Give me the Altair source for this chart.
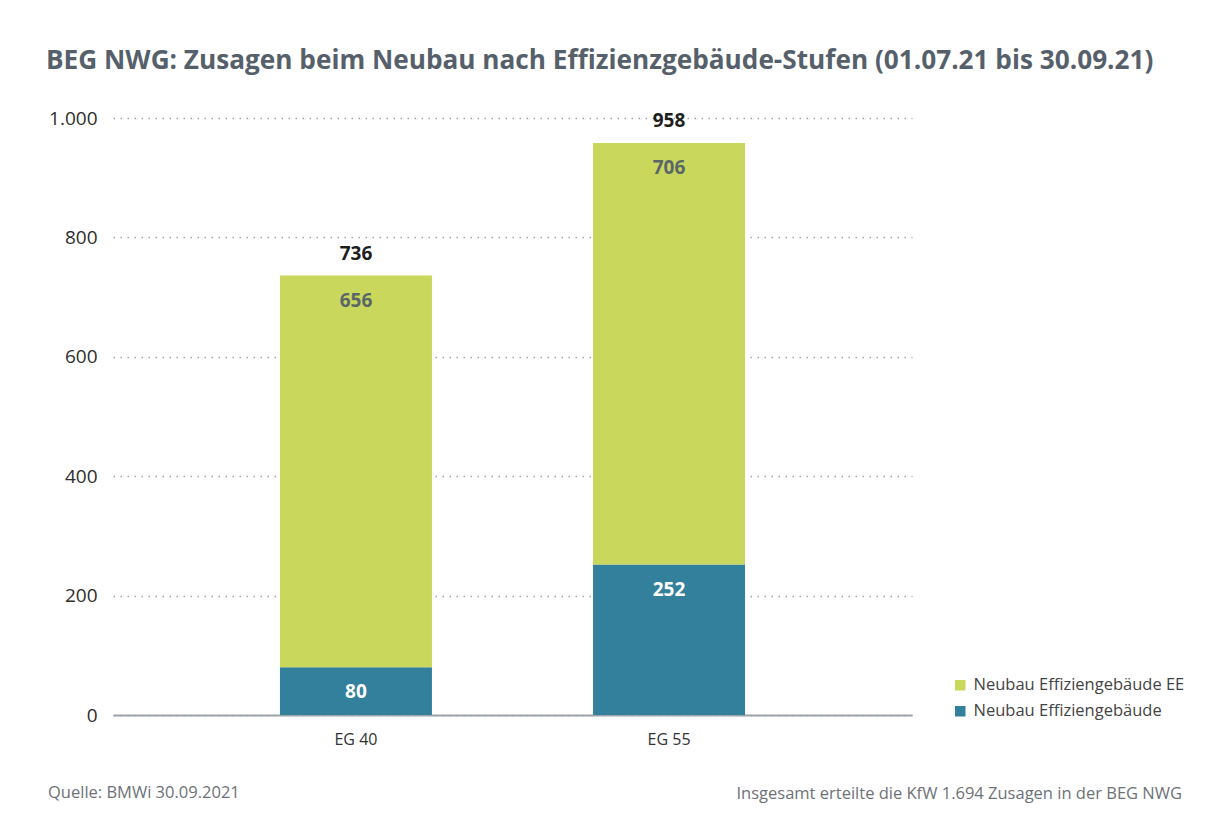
import altair as alt
import pandas as pd

# ---- data ----
categories = ["EG 40", "EG 55"]
series_eg = "Neubau Effiziengebäude"
series_ee = "Neubau Effiziengebäude EE"
values_eg = [80, 252]
values_ee = [656, 706]
y_ticks = [0, 200, 400, 600, 800, 1000]

title_text = "BEG NWG: Zusagen beim Neubau nach Effizienzgebäude-Stufen (01.07.21 bis 30.09.21)"
source_note = "Quelle: BMWi 30.09.2021"
total_note = "Insgesamt erteilte die KfW 1.694 Zusagen in der BEG NWG"

GREEN = "#c9d85c"
TEAL = "#33809c"
FONT = "Open Sans"

rows = []
for i, c in enumerate(categories):
    rows.append(dict(cat=c, series=series_eg, value=values_eg[i], y0=0,
                     y1=values_eg[i], lab_color="#ffffff"))
    rows.append(dict(cat=c, series=series_ee, value=values_ee[i], y0=values_eg[i],
                     y1=values_eg[i] + values_ee[i], lab_color="#5b6668"))
df = pd.DataFrame(rows)
totals = pd.DataFrame({"cat": categories,
                       "total": [a + b for a, b in zip(values_eg, values_ee)]})
notes = pd.DataFrame({"src": [source_note], "tot": [total_note]})

x_enc = alt.X("cat:N", title=None,
              scale=alt.Scale(domain=categories, paddingInner=0.514, paddingOuter=0.533),
              axis=alt.Axis(labelAngle=0, labelFontSize=16, labelColor="#333333",
                            labelPadding=16, ticks=False, domain=True,
                            domainColor="#9ea4a9", domainWidth=2, grid=False,
                            labelFont=FONT))

bars = alt.Chart(df).mark_bar(size=152).encode(
    x=x_enc,
    y=alt.Y("y1:Q", title=None,
            scale=alt.Scale(domain=[0, 1000], nice=False),
            axis=alt.Axis(values=y_ticks, ticks=False, domain=False,
                          labelFontSize=19, labelColor="#2e2e2e", labelPadding=16,
                          labelFont=FONT,
                          labelExpr="replace(format(datum.value, ','), ',', '.')",
                          grid=True, gridColor="#a3a3a3", gridDash=[1.5, 5.5],
                          gridWidth=1.5)),
    y2="y0:Q",
    color=alt.Color("series:N",
                    scale=alt.Scale(domain=[series_ee, series_eg], range=[GREEN, TEAL]),
                    legend=alt.Legend(title=None, orient="none", legendX=839, legendY=559,
                                      symbolType="square", symbolSize=110,
                                      symbolStrokeWidth=0, labelFontSize=16.5,
                                      labelColor="#444444", labelFont=FONT,
                                      labelOffset=5, rowPadding=9, labelLimit=0)),
)

seg_labels = alt.Chart(df).mark_text(
    dy=25, baseline="middle", fontSize=19, fontWeight="bold", font=FONT
).encode(
    x=alt.X("cat:N"),
    y=alt.Y("y1:Q"),
    text=alt.Text("value:Q"),
    color=alt.Color("lab_color:N", scale=None),
)

total_labels = alt.Chart(totals).mark_text(
    dy=-22, baseline="middle", fontSize=19, fontWeight="bold", font=FONT,
    color="#1e1e1e"
).encode(
    x=alt.X("cat:N"),
    y=alt.Y("total:Q"),
    text=alt.Text("total:Q"),
)

src_text = alt.Chart(notes).mark_text(
    align="left", baseline="alphabetic", fontSize=16.5, font=FONT, color="#6d7277"
).encode(x=alt.value(-65), y=alt.value(680), text="src:N")

tot_text = alt.Chart(notes).mark_text(
    align="right", baseline="alphabetic", fontSize=16.5, font=FONT, color="#6d7277"
).encode(x=alt.value(1069), y=alt.value(681), text="tot:N")

chart = alt.layer(bars, seg_labels, total_labels, src_text, tot_text).properties(
    width=799,
    height=597,
    title=alt.TitleParams(title_text, anchor="start", fontSize=26.2, fontWeight="bold",
                          color="#56606b", font=FONT, dx=-2, offset=35),
    autosize=alt.AutoSizeParams(type="none"),
    padding={"left": 105, "top": 110, "right": 297, "bottom": 106},
    background="white",
).configure_view(stroke=None)

chart.save("out.html", embed_options={"renderer": "svg", "actions": False})
